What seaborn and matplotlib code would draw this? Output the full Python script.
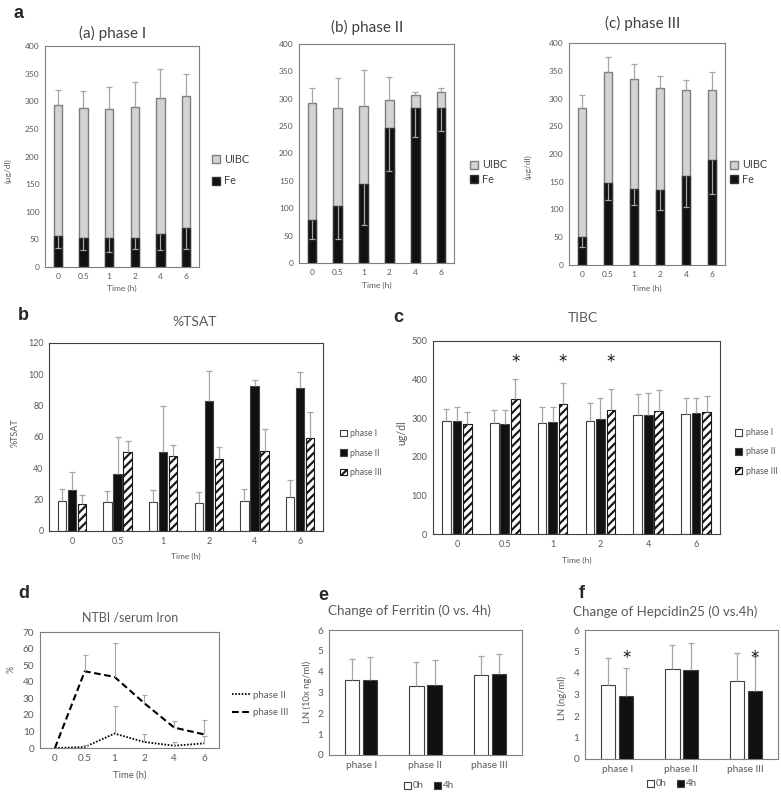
import numpy as np
import pandas as pd
import matplotlib
matplotlib.use("Agg")
import matplotlib.pyplot as plt
import seaborn as sns
from matplotlib.patches import Patch
from matplotlib.lines import Line2D

# ---------------- data ----------------
times = ["0", "0.5", "1", "2", "4", "6"]
phases = ["phase I", "phase II", "phase III"]
visits = ["0h", "4h"]

# panel a: Fe and TIBC (= Fe + UIBC) in ug/dl, with SD
fe_p1 = [56, 53, 53, 53, 59, 70]
fe_p1_sd = [21, 23, 25, 21, 29, 37]
tibc_p1 = [293, 287, 286, 290, 306, 310]
tibc_p1_sd = [27, 31, 40, 44, 52, 39]

fe_p2 = [79, 105, 145, 246, 284, 284]
fe_p2_sd = [35, 61, 76, 78, 54, 42]
tibc_p2 = [293, 283, 287, 298, 307, 312]
tibc_p2_sd = [27, 55, 66, 42, 5, 8]

fe_p3 = [50, 147, 137, 135, 161, 189]
fe_p3_sd = [18, 29, 29, 35, 56, 61]
tibc_p3 = [283, 347, 336, 319, 316, 316]
tibc_p3_sd = [23, 27, 27, 21, 17, 32]

# panel b: %TSAT
tsat_p1 = [19.1, 18.3, 18.3, 18.0, 19.0, 21.7]
tsat_p1_sd = [7.6, 7.5, 7.9, 7.0, 7.7, 10.8]
tsat_p2 = [26.2, 36.7, 50.5, 83.0, 92.4, 91.3]
tsat_p2_sd = [11.6, 23.3, 29.2, 19.3, 4.2, 10.0]
tsat_p3 = [17.0, 50.5, 47.8, 45.9, 51.2, 59.4]
tsat_p3_sd = [6.0, 7.2, 7.0, 7.8, 13.6, 16.4]

# panel c: TIBC
tibcc_p1 = [294, 288, 287, 292, 307, 312]
tibcc_p1_sd = [29, 33, 43, 47, 56, 41]
tibcc_p2 = [294, 284, 289, 299, 308, 313]
tibcc_p2_sd = [36, 38, 40, 53, 56, 40]
tibcc_p3 = [285, 349, 338, 320, 318, 317]
tibcc_p3_sd = [30, 52, 54, 55, 55, 41]
tibc_sig = ["0.5", "1", "2"]

# panel d: NTBI / serum iron (%)
ntbi_p2 = [0, 0.6, 8.7, 3.6, 1.4, 2.8]
ntbi_p2_sd = [0, 1.4, 16.7, 5.1, 2.4, 4.2]
ntbi_p3 = [0, 46.3, 42.9, 27.0, 12.3, 8.2]
ntbi_p3_sd = [0, 10.0, 20.5, 5.2, 3.8, 8.9]

# panel e: ferritin LN(10x ng/ml)
ferr_0h = [3.58, 3.30, 3.82]
ferr_0h_sd = [1.01, 1.15, 0.93]
ferr_4h = [3.62, 3.38, 3.89]
ferr_4h_sd = [1.08, 1.16, 0.94]

# panel f: hepcidin25 LN(ng/ml)
hep_0h = [3.45, 4.20, 3.64]
hep_0h_sd = [1.26, 1.12, 1.30]
hep_4h = [2.92, 4.13, 3.17]
hep_4h_sd = [1.32, 1.28, 1.60]
hep_sig = ["phase I", "phase III"]

# ---------------- style ----------------
sns.set_style("white")
plt.rcParams["font.family"] = ["Lato", "DejaVu Sans"]
plt.rcParams["hatch.linewidth"] = 1.6
plt.rcParams["hatch.color"] = "black"

W, H = 781, 800
fig = plt.figure(figsize=(W / 100, H / 100), dpi=100)

TICK = "#595959"
ERR = "#a6a6a6"
FE_C = "#111111"
UIBC_C = "#d3d3d3"
EDGE = "#404040"


def add_ax(box):
    l, t, r, b = box
    return fig.add_axes([l / W, 1 - b / H, (r - l) / W, (b - t) / H])


def style(ax, fs, spine="#595959"):
    for s in ax.spines.values():
        s.set_visible(True)
        s.set_color(spine)
        s.set_linewidth(0.8)
    ax.tick_params(length=0, labelsize=fs, colors=TICK, pad=4)
    ax.set_xlabel("")
    ax.set_ylabel("")


def xlab(ax, box, text, ypx, fs):
    l, t, r, b = box
    ax.set_xlabel(text, fontsize=fs, color=TICK)
    ax.xaxis.set_label_coords(0.5, (b - ypx) / (b - t))
    ax.xaxis.label.set_va("center")


def ylab(ax, box, text, xpx, ypx, fs):
    l, t, r, b = box
    ax.set_ylabel(text, fontsize=fs, color=TICK)
    ax.yaxis.set_label_coords((xpx - l) / (r - l), (b - ypx) / (b - t))
    ax.yaxis.label.set_va("center")


def err(ax, xs, ys, sd, up=True, cap=2.0, lw=0.9):
    xs = np.asarray(xs, float)
    ys = np.asarray(ys, float)
    sd = np.asarray(sd, float)
    m = sd > 0
    z = np.zeros(m.sum())
    yerr = [z, sd[m]] if up else [sd[m], z]
    c = ax.errorbar(xs[m], ys[m], yerr=yerr, fmt="none", ecolor=ERR,
                    elinewidth=lw, capsize=cap, capthick=lw, zorder=3)
    c.lines[1][0 if up else 1].set_visible(False)


def ftext(x, y, s, **kw):
    fig.text(x / W, 1 - y / H, s, **kw)


def grouped(ax, cats, hues, vals, sds, width, gap, pal, hatch_idx=None):
    rows = []
    for h, v in zip(hues, vals):
        for c, val in zip(cats, v):
            rows.append({"cat": c, "hue": h, "val": val})
    df = pd.DataFrame(rows)
    sns.barplot(data=df, x="cat", y="val", hue="hue", order=cats,
                hue_order=hues, palette=pal, saturation=1, width=width,
                gap=gap, edgecolor=EDGE, linewidth=0.8, errorbar=None,
                legend=False, ax=ax)
    bars = list(ax.containers)
    if hatch_idx is not None:
        for p in bars[hatch_idx]:
            p.set_hatch("////")
            p.set_edgecolor("#1a1a1a")
    centers = []
    for cont, v, s in zip(bars, vals, sds):
        xs = [p.get_x() + p.get_width() / 2 for p in cont]
        centers.append(xs)
        err(ax, xs, v, s, up=True, cap=2.0, lw=0.9)
    return centers


# ---------------- panel a ----------------
def panel_a(box, fe, fe_sd, tibc, tibc_sd, leg_xy, spacing, xlab_y, ylab_pos=None):
    ax = add_ax(box)
    df = pd.DataFrame({"time": times, "Fe": fe, "TIBC": tibc})
    sns.barplot(data=df, x="time", y="TIBC", order=times, color=UIBC_C,
                saturation=1, width=0.33, edgecolor="#7f7f7f", linewidth=1.0,
                errorbar=None, ax=ax)
    sns.barplot(data=df, x="time", y="Fe", order=times, color=FE_C,
                saturation=1, width=0.33, edgecolor="#333333", linewidth=1.0,
                errorbar=None, ax=ax)
    xs = np.arange(len(times))
    err(ax, xs, tibc, tibc_sd, up=True, cap=2.0)
    err(ax, xs, fe, fe_sd, up=False, cap=2.0)
    ax.set_xlim(-0.5, len(times) - 0.5)
    ax.set_ylim(0, 400)
    ax.set_yticks(range(0, 401, 50))
    style(ax, 6.0, spine="#7f7f7f")
    xlab(ax, box, "Time (h)", xlab_y, 6.0)
    if ylab_pos is not None:
        ylab(ax, box, "(µg/dl)", ylab_pos[0], ylab_pos[1], 6.0)
    handles = [Patch(facecolor=UIBC_C, edgecolor="#7f7f7f", linewidth=1.0),
               Patch(facecolor=FE_C, edgecolor="#333333", linewidth=1.0)]
    ax.legend(handles, ["UIBC", "Fe"], loc="center left",
              bbox_to_anchor=(leg_xy[0] / W, 1 - leg_xy[1] / H),
              bbox_transform=fig.transFigure, frameon=False, fontsize=7.8,
              handlelength=0.75, handleheight=0.75, handletextpad=0.4,
              labelspacing=spacing, borderpad=0, borderaxespad=0,
              labelcolor="#404040")
    return ax


box_a1 = (45, 46, 199, 267)
box_a2 = (299, 44, 454, 263)
box_a3 = (569, 43, 725, 265)
panel_a(box_a1, fe_p1, fe_p1_sd, tibc_p1, tibc_p1_sd, (212, 170), 1.0, 288, (8, 171))
panel_a(box_a2, fe_p2, fe_p2_sd, tibc_p2, tibc_p2_sd, (470, 172), 0.3, 285)
panel_a(box_a3, fe_p3, fe_p3_sd, tibc_p3, tibc_p3_sd, (730, 172), 0.3, 288, (528, 167))

ftext(13, 14, "a", fontsize=13, fontweight="bold", family="Liberation Sans", va="center", ha="left")
ftext(113, 33, "(a) phase I", fontsize=11, color="#404040", ha="center", va="center")
ftext(367, 27, "(b) phase II", fontsize=11, color="#404040", ha="center", va="center")
ftext(643, 23, "(c) phase III", fontsize=11, color="#404040", ha="center", va="center")

# ---------------- panel b ----------------
box_b = (49, 343, 323, 531)
ax_b = add_ax(box_b)
pal3 = {"phase I": "white", "phase II": FE_C, "phase III": "white"}
grouped(ax_b, times, phases, [tsat_p1, tsat_p2, tsat_p3],
        [tsat_p1_sd, tsat_p2_sd, tsat_p3_sd], 0.66, 0.18, pal3, hatch_idx=2)
ax_b.set_xlim(-0.5, 5.5)
ax_b.set_ylim(0, 120)
ax_b.set_yticks(range(0, 121, 20))
style(ax_b, 6.4, spine="#404040")
xlab(ax_b, box_b, "Time (h)", 556, 6.0)
ylab(ax_b, box_b, "%TSAT", 15, 433, 6.5)


def legend3(ax, xy, fs, spacing):
    handles = [Patch(facecolor="white", edgecolor=EDGE, linewidth=0.8),
               Patch(facecolor=FE_C, edgecolor=EDGE, linewidth=0.8),
               Patch(facecolor="white", edgecolor="#1a1a1a", hatch="////", linewidth=0.8)]
    ax.legend(handles, phases, loc="center left",
              bbox_to_anchor=(xy[0] / W, 1 - xy[1] / H),
              bbox_transform=fig.transFigure, frameon=False, fontsize=fs,
              handlelength=0.8, handleheight=0.8, handletextpad=0.4,
              labelspacing=spacing, borderpad=0, borderaxespad=0,
              labelcolor=TICK)


legend3(ax_b, (340, 453), 6.3, 1.2)
ftext(18, 316, "b", fontsize=13, fontweight="bold", family="Liberation Sans", va="center", ha="left")
ftext(195, 322, "%TSAT", fontsize=10, color=TICK, ha="center", va="center")

# ---------------- panel c ----------------
box_c = (433, 341, 720, 534)
ax_c = add_ax(box_c)
centers_c = grouped(ax_c, times, phases, [tibcc_p1, tibcc_p2, tibcc_p3],
                    [tibcc_p1_sd, tibcc_p2_sd, tibcc_p3_sd], 0.66, 0.18, pal3, hatch_idx=2)
ax_c.set_xlim(-0.5, 5.5)
ax_c.set_ylim(0, 500)
ax_c.set_yticks(range(0, 501, 100))
style(ax_c, 6.6, spine="#404040")
xlab(ax_c, box_c, "Time (h)", 560, 6.0)
ylab(ax_c, box_c, "ug/dl", 402, 433, 7.6)
for t in tibc_sig:
    i = times.index(t)
    ax_c.text(centers_c[2][i], 432, "*", fontsize=12, ha="center", va="baseline",
              family="DejaVu Sans", color="#111111")
legend3(ax_c, (735, 452), 6.3, 1.15)
ftext(393, 317, "c", fontsize=13, fontweight="bold", family="Liberation Sans", va="center", ha="left")
ftext(583, 318, "TIBC", fontsize=10, color=TICK, ha="center", va="center")

# ---------------- panel d ----------------
box_d = (40, 632, 219, 748)
ax_d = add_ax(box_d)
df_d = pd.DataFrame({"time": times * 2,
                     "phase": ["phase II"] * len(times) + ["phase III"] * len(times),
                     "val": ntbi_p2 + ntbi_p3})
sns.pointplot(data=df_d, x="time", y="val", hue="phase", order=times,
              hue_order=["phase II", "phase III"], palette=["black", "black"],
              markers=["", ""], linestyles=["-", "-"], errorbar=None,
              legend=False, ax=ax_d)
lines_d = list(ax_d.lines)
lines_d[0].set_linewidth(1.3)
lines_d[0].set_linestyle((0, (0.9, 0.9)))
lines_d[1].set_linewidth(1.5)
lines_d[1].set_linestyle((0, (3.2, 1.7)))
xs_d = np.arange(len(times))
err(ax_d, xs_d, ntbi_p2, ntbi_p2_sd, up=True, cap=1.8, lw=0.8)
err(ax_d, xs_d, ntbi_p3, ntbi_p3_sd, up=True, cap=1.8, lw=0.8)
ax_d.set_xlim(-0.5, 5.5)
ax_d.set_ylim(0, 70)
ax_d.set_yticks(range(0, 71, 10))
style(ax_d, 7.2, spine="#7f7f7f")
xlab(ax_d, box_d, "Time (h)", 775, 6.8)
ylab(ax_d, box_d, "%", 11, 669, 6.5)
hd = [Line2D([], [], color="black", lw=1.3, linestyle=(0, (0.9, 0.9))),
      Line2D([], [], color="black", lw=1.5, linestyle=(0, (3.2, 1.7)))]
ax_d.legend(hd, ["phase II", "phase III"], loc="center left",
            bbox_to_anchor=(232 / W, 1 - 704 / H), bbox_transform=fig.transFigure,
            frameon=False, fontsize=7.0, handlelength=1.8, handletextpad=0.4,
            labelspacing=0.9, borderpad=0, borderaxespad=0, labelcolor=TICK)
ftext(18, 594, "d", fontsize=13, fontweight="bold", family="Liberation Sans", va="center", ha="left")
ftext(130, 617, "NTBI /serum Iron", fontsize=9, color=TICK, ha="center", va="center")

# ---------------- panel e ----------------
pal2 = {"0h": "white", "4h": FE_C}


def legend2(ax, xy):
    handles = [Patch(facecolor="white", edgecolor=EDGE, linewidth=0.8),
               Patch(facecolor=FE_C, edgecolor=EDGE, linewidth=0.8)]
    ax.legend(handles, visits, loc="center", ncol=2,
              bbox_to_anchor=(xy[0] / W, 1 - xy[1] / H),
              bbox_transform=fig.transFigure, frameon=False, fontsize=7.0,
              handlelength=0.7, handleheight=0.7, handletextpad=0.2,
              columnspacing=1.0, borderpad=0, borderaxespad=0, labelcolor=TICK)


box_e = (329, 630, 522, 755)
ax_e = add_ax(box_e)
grouped(ax_e, phases, visits, [ferr_0h, ferr_4h], [ferr_0h_sd, ferr_4h_sd],
        0.56, 0.21, pal2)
ax_e.set_xlim(-0.5, 2.5)
ax_e.set_ylim(0, 6)
ax_e.set_yticks(range(0, 7))
style(ax_e, 7.2, spine="#7f7f7f")
ylab(ax_e, box_e, "LN (10x ng/ml)", 307, 692, 6.8)
legend2(ax_e, (429, 786))
ftext(318, 595, "e", fontsize=13, fontweight="bold", family="Liberation Sans", va="center", ha="left")
ftext(409, 611, "Change of Ferritin (0 vs. 4h)", fontsize=9.6, color=TICK, ha="center", va="center")

# ---------------- panel f ----------------
box_f = (585, 630, 778, 759)
ax_f = add_ax(box_f)
centers_f = grouped(ax_f, phases, visits, [hep_0h, hep_4h], [hep_0h_sd, hep_4h_sd],
                    0.56, 0.21, pal2)
ax_f.set_xlim(-0.5, 2.5)
ax_f.set_ylim(0, 6)
ax_f.set_yticks(range(0, 7))
style(ax_f, 7.2, spine="#7f7f7f")
ylab(ax_f, box_f, "LN (ng/ml)", 562, 698, 6.8)
for p in hep_sig:
    i = phases.index(p)
    ax_f.text(centers_f[1][i], 4.45, "*", fontsize=12, ha="center", va="baseline",
              family="DejaVu Sans", color="#111111")
legend2(ax_f, (672, 784))
ftext(579, 593, "f", fontsize=13, fontweight="bold", family="Liberation Sans", va="center", ha="left")
ftext(665, 612, "Change of Hepcidin25 (0 vs.4h)", fontsize=9.6, color=TICK, ha="center", va="center")

fig.savefig("out.png", dpi=100, facecolor="white")
